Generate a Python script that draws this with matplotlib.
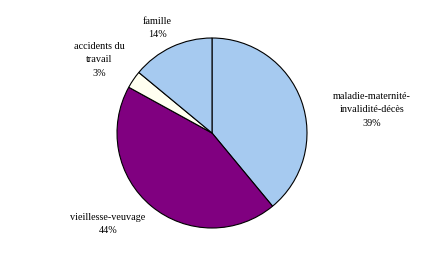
import matplotlib.pyplot as plt

labels = ["maladie-maternité-\ninvalidité-décès", "vieillesse-veuvage", "accidents du\ntravail", "famille"]
shares = [39, 44, 3, 14]
colors = ["#A6CAF0", "#800080", "#FFFFF0", "#A6CAF0"]

# label centres in pixel coordinates (from top-left)
label_pos = [(372, 110), (108, 224), (99, 60), (157, 28)]

W, H = 426, 266
fig = plt.figure(figsize=(W / 100, H / 100), dpi=100)
ax = fig.add_axes([0, 0, 1, 1])

ax.pie(shares, colors=colors, startangle=90, counterclock=False,
       center=(212, H - 133), radius=95,
       wedgeprops=dict(edgecolor="black", linewidth=0.8))

# pie() resets the limits, so set them afterwards
ax.set_xlim(0, W)
ax.set_ylim(0, H)
ax.set_aspect("equal")
ax.axis("off")

for lab, v, (x, y) in zip(labels, shares, label_pos):
    ax.text(x, H - y, lab + "\n" + str(v) + "%", ha="center", va="center",
            fontsize=7.3, family="Liberation Serif", linespacing=1.65)

fig.savefig("out.png", dpi=100)
